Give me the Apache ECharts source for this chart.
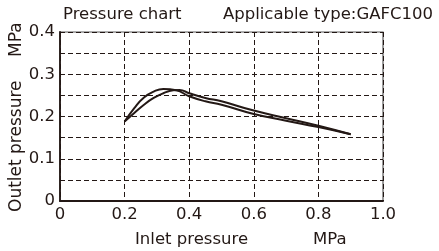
<!DOCTYPE html>
<html>
<head>
<meta charset="utf-8">
<script src="https://cdn.jsdelivr.net/npm/echarts@6/dist/echarts.min.js"></script>
<style>html,body{margin:0;padding:0;background:#fff}#c{width:439px;height:251px}</style>
</head>
<body>
<div id="c"></div>
<script>
var inletA  = [0.2, 0.23, 0.26, 0.29, 0.32, 0.36, 0.4, 0.45, 0.5, 0.6, 0.7, 0.8, 0.9];
var outletA = [0.188, 0.22, 0.245, 0.259, 0.265, 0.262, 0.248, 0.236, 0.228, 0.206, 0.190, 0.175, 0.158];
var inletB  = [0.2, 0.23, 0.26, 0.29, 0.32, 0.35, 0.37, 0.4, 0.45, 0.5, 0.6, 0.7, 0.8, 0.9];
var outletB = [0.188, 0.208, 0.228, 0.244, 0.255, 0.262, 0.263, 0.255, 0.244, 0.236, 0.214, 0.196, 0.178, 0.158];
var xTickLabels = ['0', '0.2', '0.4', '0.6', '0.8', '1.0'];
var yTickLabels = ['0', '0.1', '0.2', '0.3', '0.4'];
var titleLeft = 'Pressure chart';
var titleRight = 'Applicable type:GAFC100';
var xName = 'Inlet pressure';
var xUnit = 'MPa';
var yName = 'Outlet pressure';
var yUnit = 'MPa';

function zip(a, b) { return a.map(function (v, i) { return [v, b[i]]; }); }

var font = '"DejaVu Sans", sans-serif';
var ink = '#231815';
var chart = echarts.init(document.getElementById('c'), null, {renderer: 'canvas'});
chart.setOption({
  animation: false,
  backgroundColor: '#fff',
  grid: {left: 60, right: 56, top: 32, bottom: 50, show: true, borderColor: '#5a5a5a', borderWidth: 1.2},
  xAxis: {
    type: 'value', min: 0, max: 1, interval: 0.2,
    axisLine: {show: true, lineStyle: {color: ink, width: 1.8}},
    axisTick: {show: false},
    axisLabel: {color: ink, fontSize: 16.5, fontFamily: font, margin: 5,
      formatter: function (v) { return xTickLabels[Math.round(v / 0.2)]; }},
    splitLine: {show: true, lineStyle: {color: ink, type: [5, 3], width: 1}}
  },
  yAxis: {
    type: 'value', min: 0, max: 0.4, interval: 0.05,
    axisLine: {show: true, lineStyle: {color: ink, width: 1.8}},
    axisTick: {show: false},
    axisLabel: {color: ink, fontSize: 16.5, fontFamily: font, margin: 5,
      formatter: function (v) {
        var k = Math.round(v / 0.05);
        return k % 2 === 0 ? yTickLabels[k / 2] : '';
      }},
    splitLine: {show: true, lineStyle: {color: ink, type: [5, 3], width: 1}}
  },
  series: [
    {type: 'line', data: zip(inletA, outletA), smooth: 0.5, showSymbol: false,
      lineStyle: {color: ink, width: 2}},
    {type: 'line', data: zip(inletB, outletB), smooth: 0.5, showSymbol: false,
      lineStyle: {color: ink, width: 2}}
  ],
  graphic: [
    {type: 'text', x: 63, y: 15, style: {text: titleLeft, fill: ink, font: '16.5px ' + font, textAlign: 'left', textVerticalAlign: 'middle'}},
    {type: 'text', x: 433, y: 15, style: {text: titleRight, fill: ink, font: '16.5px ' + font, textAlign: 'right', textVerticalAlign: 'middle'}},
    {type: 'text', x: 135, y: 240, style: {text: xName, fill: ink, font: '16.5px ' + font, textAlign: 'left', textVerticalAlign: 'middle'}},
    {type: 'text', x: 313, y: 240, style: {text: xUnit, fill: ink, font: '16.5px ' + font, textAlign: 'left', textVerticalAlign: 'middle'}},
    {type: 'text', x: 17, y: 212, rotation: Math.PI / 2,
      style: {text: yName, fill: ink, font: '17px ' + font, textAlign: 'left', textVerticalAlign: 'middle'}},
    {type: 'text', x: 17, y: 57, rotation: Math.PI / 2,
      style: {text: yUnit, fill: ink, font: '17px ' + font, textAlign: 'left', textVerticalAlign: 'middle'}}
  ]
});
</script>
</body>
</html>
